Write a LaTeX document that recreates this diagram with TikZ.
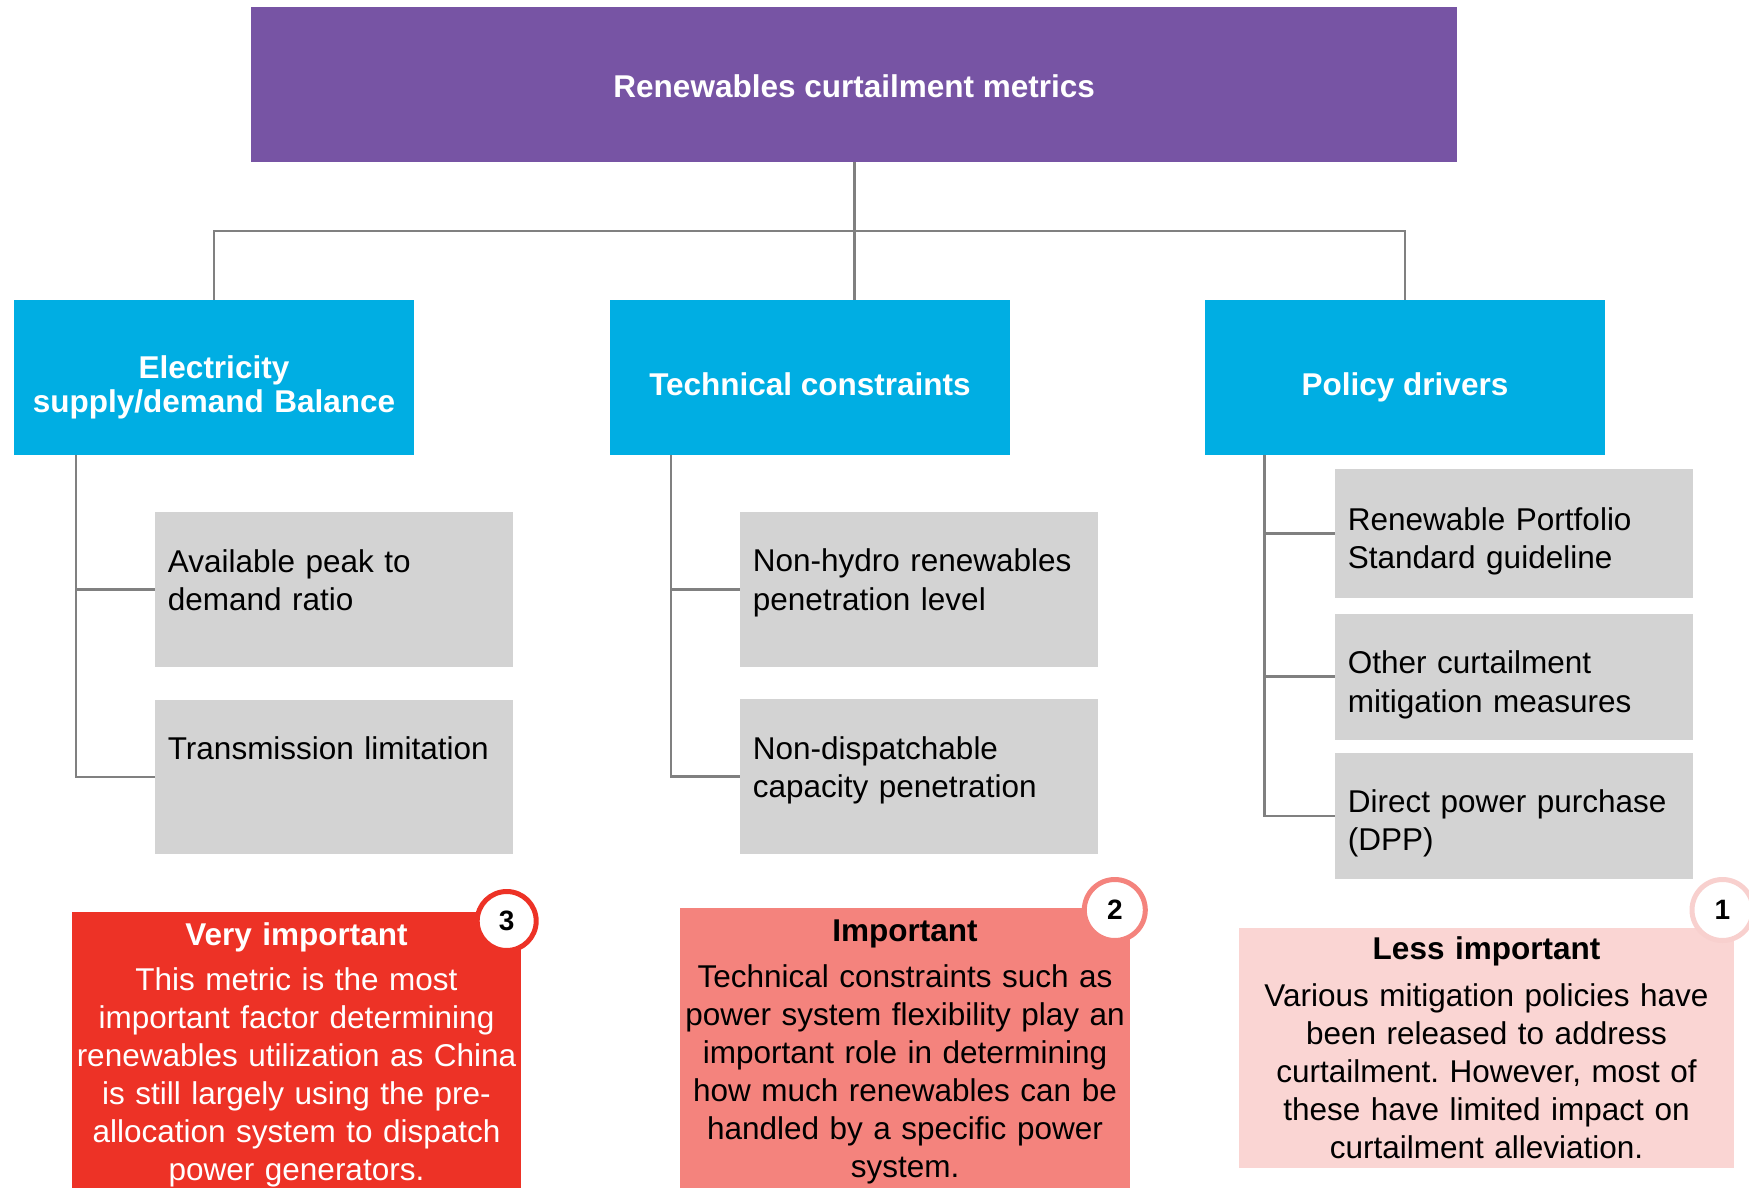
\documentclass[tikz,border=0pt]{standalone}
\usepackage{fontspec}
\setmainfont{Liberation Sans}
\usetikzlibrary{calc}
\frenchspacing

\definecolor{titlepurple}{RGB}{119,84,164}
\definecolor{catblue}{RGB}{0,174,227}
\definecolor{itemgray}{RGB}{211,211,211}
\definecolor{linegray}{RGB}{128,128,128}
\definecolor{rankred}{RGB}{237,50,38}
\definecolor{ranksalmon}{RGB}{244,131,125}
\definecolor{rankpink}{RGB}{250,213,211}
\definecolor{badgepink}{RGB}{248,208,206}

\tikzset{
  plainbox/.style={rectangle, draw=none, inner sep=0pt, outer sep=0pt},
  titlebox/.style={plainbox, fill=titlepurple},
  catbox/.style={plainbox, fill=catblue, minimum width=400pt, minimum height=155pt},
  itembox/.style={plainbox, fill=itemgray, minimum width=358pt},
  rankbox/.style={plainbox},
  conn/.style={draw=linegray, line width=2.8pt},
  headtext/.style={inner sep=0pt, text=white, align=center,
    font=\fontsize{31.5}{34.6}\selectfont\bfseries},
  itemtext/.style={inner sep=0pt, anchor=base west, text width=340pt, align=left,
    font=\fontsize{31.5}{38.3}\selectfont},
  ranktext/.style={inner sep=0pt, anchor=base, align=center,
    font=\fontsize{31.5}{38}\selectfont},
  badge/.style={circle, fill=white, line width=5pt, inner sep=0pt,
    font=\fontsize{28}{28}\selectfont\bfseries},
}

\begin{document}
\begin{tikzpicture}[x=1pt, y=-1pt]
\useasboundingbox (0,0) rectangle (1749,1188);
\clip (0,0) rectangle (1749,1188);

% ---- top level ----
\node[titlebox, minimum width=1206pt, minimum height=155pt] (T) at (854.2,84.5) {};
\node[headtext, anchor=base] (Tt) at (854.2,97.8) {Renewables curtailment metrics};

% ---- categories ----
\node[catbox] (B1) at (214,377.5) {};
\node[catbox] (B2) at (810,377.5) {};
\node[catbox] (B3) at (1405,377.5) {};
\node[headtext, anchor=base, text width=400pt] (B1t) at (214,378.2)
  {Electricity\\supply/demand Balance};
\node[headtext, anchor=base] (B2t) at (810,395.9) {Technical constraints};
\node[headtext, anchor=base] (B3t) at (1405,395.9) {Policy drivers};

% tree from the title to the categories
\coordinate (bus) at (854.2,231);
\draw[conn] (T.south) -- (T.south |- B2.north);
\draw[conn] (B1.north) |- (bus) -| (B3.north);

% ---- metrics under each category ----
\node[itembox, minimum height=154.5pt] (g11) at (334,589.5) {};
\node[itembox, minimum height=154.5pt] (g12) at (334,777) {};
\node[itembox, minimum height=154.5pt] (g21) at (919,589.5) {};
\node[itembox, minimum height=154.5pt] (g22) at (919,776.5) {};
\node[itembox, minimum height=128.7pt] (g31) at (1514,533.3) {};
\node[itembox, minimum height=125.7pt] (g32) at (1514,676.8) {};
\node[itembox, minimum height=125.4pt] (g33) at (1514,816) {};

\node[itemtext] (g11t) at (167.7,572.2) {Available peak to\\demand ratio};
\node[itemtext] (g12t) at (167.7,759.8) {Transmission limitation};
\node[itemtext] (g21t) at (752.7,571.7) {Non-hydro renewables\\penetration level};
\node[itemtext] (g22t) at (752.7,759.5) {Non-dispatchable\\capacity penetration};
\node[itemtext] (g31t) at (1347.7,530.5) {Renewable Portfolio\\Standard guideline};
\node[itemtext] (g32t) at (1347.7,673.8) {Other curtailment\\mitigation measures};
\node[itemtext] (g33t) at (1347.7,812.2) {Direct power purchase\\(DPP)};

% branch lines
\coordinate (c1) at ($(B1.south west)+(62,0)$);
\coordinate (c2) at ($(B2.south west)+(61,0)$);
\coordinate (c3) at ($(B3.south west)+(59.5,0)$);
\draw[conn] (c1) |- (g12.west);
\draw[conn] (c1 |- g11.west) -- (g11.west);
\draw[conn] (c2) |- (g22.west);
\draw[conn] (c2 |- g21.west) -- (g21.west);
\draw[conn] (c3) |- (g33.west);
\draw[conn] (c3 |- g31.west) -- (g31.west);
\draw[conn] (c3 |- g32.west) -- (g32.west);

% ---- importance ranking ----
\node[rankbox, fill=rankred, minimum width=449pt, minimum height=288pt] (R3) at (296.5,1056) {};
\node[rankbox, fill=ranksalmon, minimum width=450pt, minimum height=292pt] (R2) at (905,1054) {};
\node[rankbox, fill=rankpink, minimum width=495pt, minimum height=240pt] (R1) at (1486.5,1048) {};

\node[ranktext, text=white, text width=449pt] (R3t) at (296.5,945.5)
  {\textbf{Very important}\\[7pt]
   This metric is the most\\
   important factor determining\\
   renewables utilization as China\\
   is still largely using the pre-\\
   allocation system to dispatch\\
   power generators.};
\node[ranktext, text=black, text width=450pt] (R2t) at (905,941.2)
  {\textbf{Important}\\[8pt]
   Technical constraints such as\\
   power system flexibility play an\\
   important role in determining\\
   how much renewables can be\\
   handled by a specific power\\
   system.};
\node[ranktext, text=black, text width=495pt] (R1t) at (1486.5,959.5)
  {\textbf{Less important}\\[9pt]
   Various mitigation policies have\\
   been released to address\\
   curtailment. However, most of\\
   these have limited impact on\\
   curtailment alleviation.};

% rank badges
\node[badge, draw=rankred, minimum size=59pt] (k3) at (506.7,921) {3};
\node[badge, draw=ranksalmon, minimum size=61pt] (k2) at (1114.8,910) {2};
\node[badge, draw=badgepink, minimum size=61pt] (k1) at (1722.5,910) {1};
\end{tikzpicture}
\end{document}
